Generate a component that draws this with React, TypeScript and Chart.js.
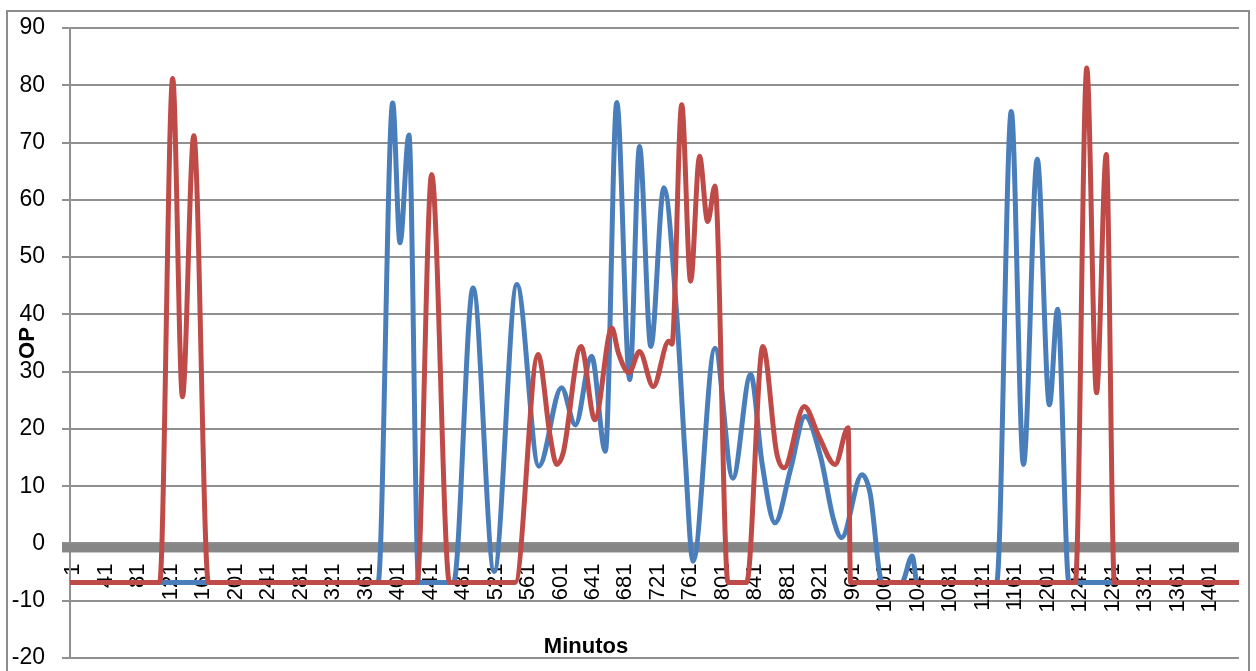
import React, { useEffect, useRef } from 'react';
import { Chart, registerables } from 'chart.js';

Chart.register(...registerables);

// X axis (minutes) tick labels shown on the category axis
const xTickLabels = [1, 41, 81, 121, 161, 201, 241, 281, 321, 361, 401, 441, 481, 521, 561, 601, 641, 681, 721, 761, 801, 841, 881, 921, 961, 1001, 1041, 1081, 1121, 1161, 1201, 1241, 1281, 1321, 1361, 1401];
const minuteCount = 1440;

// Y axis range
const yMin = -20;
const yMax = 90;
const yStep = 10;

// Series 1 (blue): minute positions and OP values
const blueMinutes = [1, 380, 398, 407, 418, 430, 473, 497, 523, 551, 578, 606, 623, 643, 660, 674, 690, 702, 716, 732, 748, 758, 768, 795, 817, 839, 853, 869, 888, 906, 925, 941, 951, 976, 986, 1001, 1025, 1038, 1044, 1142, 1160, 1175, 1192, 1207, 1217, 1231, 1440];
const blueValues = [-6.8, -6.8, 76.9, 52.5, 71.3, -6.8, -6.8, 44.6, -4.9, 45.2, 13.5, 27.2, 20.7, 32.7, 16.1, 77.0, 28.6, 69.3, 34.4, 62.1, 39.7, 15.8, -3.1, 34.1, 11.4, 29.5, 14.0, 3.6, 12.9, 22.2, 15.2, 4.2, 1.0, 12.0, 8.8, -6.8, -6.8, -2.2, -6.8, -6.8, 75.4, 13.8, 67.1, 24.2, 40.9, -6.8, -6.8];

// Series 2 (red)
const redMinutes = [1, 111, 127, 139, 153, 171, 428, 446, 468, 549, 577, 592, 600, 608, 630, 647, 668, 676, 689, 702, 719, 738, 742, 754, 765, 776, 786, 795, 811, 834, 854, 871, 880, 905, 923, 943, 959, 962, 1239, 1253, 1265, 1277, 1287, 1440];
const redValues = [-6.8, -6.8, 81.2, 25.6, 71.2, -6.8, -6.8, 64.4, -6.8, -6.8, 33.0, 18.7, 13.8, 15.8, 34.4, 21.6, 37.6, 33.3, 29.8, 33.5, 27.4, 35.3, 34.8, 76.6, 45.8, 67.6, 56.2, 62.4, -6.8, -6.8, 34.4, 15.8, 13.2, 23.9, 18.7, 13.8, 20.2, -6.8, -6.8, 83.0, 26.3, 67.9, -6.8, -6.8];

const seriesNames = ['Serie 1', 'Serie 2'];
const xTitle = 'Minutos';
const yTitle = 'OP';

const FONT = '"Liberation Sans", Arial, sans-serif';

const framePlugin = {
  id: 'excelFrame',
  beforeDraw(chart: any) {
    const { ctx, width, height } = chart;
    ctx.save();
    ctx.fillStyle = '#ffffff';
    ctx.fillRect(0, 0, width, height);
    ctx.strokeStyle = '#8c8c8c';
    ctx.lineWidth = 2;
    ctx.strokeRect(7, 11, width - 14, height + 20);
    ctx.restore();
  },
  beforeDatasetsDraw(chart: any) {
    const { ctx, chartArea } = chart;
    const y0 = chart.scales.y.getPixelForValue(0);
    ctx.save();
    ctx.fillStyle = '#868686';
    ctx.fillRect(chartArea.left - 8, y0, chartArea.right - chartArea.left + 8, 9);
    ctx.restore();
  },
  afterDraw(chart: any) {
    const { ctx } = chart;
    ctx.save();
    ctx.fillStyle = '#000000';
    ctx.font = `bold 22px ${FONT}`;
    ctx.textAlign = 'center';
    ctx.textBaseline = 'alphabetic';
    ctx.fillText(xTitle, 586, 653);
    ctx.restore();
  },
};

export default function App() {
  const canvasRef = useRef<HTMLCanvasElement | null>(null);

  useEffect(() => {
    const canvas = canvasRef.current;
    if (!canvas) return;
    const bluePoints = blueMinutes.map((m, i) => ({ x: m, y: blueValues[i] }));
    const redPoints = redMinutes.map((m, i) => ({ x: m, y: redValues[i] }));

    const chart = new Chart(canvas, {
      type: 'line',
      data: {
        datasets: [
          {
            label: seriesNames[0],
            data: bluePoints,
            borderColor: '#4A7EBB',
            borderWidth: 5,
            pointRadius: 0,
            fill: false,
            tension: 0.4,
            cubicInterpolationMode: 'monotone',
            borderJoinStyle: 'round',
            borderCapStyle: 'round',
            order: 2,
          },
          {
            label: seriesNames[1],
            data: redPoints,
            borderColor: '#BE4B48',
            borderWidth: 5,
            pointRadius: 0,
            fill: false,
            tension: 0.4,
            cubicInterpolationMode: 'monotone',
            borderJoinStyle: 'round',
            borderCapStyle: 'round',
            order: 1,
          },
        ],
      },
      options: {
        animation: false,
        responsive: false,
        events: [],
        layout: { padding: { left: 0, top: 28, right: 17, bottom: 13 }, autoPadding: false },
        plugins: {
          legend: { display: false },
          tooltip: { enabled: false },
          title: { display: false },
        },
        scales: {
          x: {
            type: 'linear',
            position: { y: 0 },
            bounds: 'data',
            min: 0.5,
            max: minuteCount + 0.5,
            grid: { display: false, drawTicks: false },
            border: { display: false },
            afterBuildTicks: (scale: any) => {
              scale.ticks = xTickLabels.map((v) => ({ value: v }));
            },
            afterFit: (scale: any) => {
              scale.paddingLeft = 0;
              scale.paddingRight = 0;
              scale.paddingTop = 0;
              scale.paddingBottom = 0;
            },
            ticks: {
              autoSkip: false,
              minRotation: 90,
              maxRotation: 90,
              padding: 20,
              labelOffset: 3,
              color: '#000000',
              font: { family: FONT, size: 22 },
              callback: (v: any) => String(v),
            },
          },
          y: {
            type: 'linear',
            min: yMin,
            max: yMax,
            afterFit: (scale: any) => {
              scale.width = 70;
              scale.paddingTop = 0;
              scale.paddingBottom = 0;
            },
            grid: { color: '#909090', lineWidth: 2, tickLength: 8, drawTicks: true },
            border: { color: '#909090', width: 2 },
            ticks: {
              stepSize: yStep,
              padding: 17,
              color: '#000000',
              font: { family: FONT, size: 23 },
            },
            title: {
              display: true,
              text: yTitle,
              color: '#000000',
              font: { family: FONT, size: 22, weight: 'bold' },
              padding: { top: 15, bottom: 0 },
            },
          },
        },
      } as any,
      plugins: [framePlugin],
    });

    return () => chart.destroy();
  }, []);

  return (
    <div style={{ position: 'fixed', left: 0, top: 0, width: 1256, height: 671, background: '#fff', overflow: 'hidden' }}>
      <canvas ref={canvasRef} width={1256} height={671} style={{ display: 'block' }} />
    </div>
  );
}
